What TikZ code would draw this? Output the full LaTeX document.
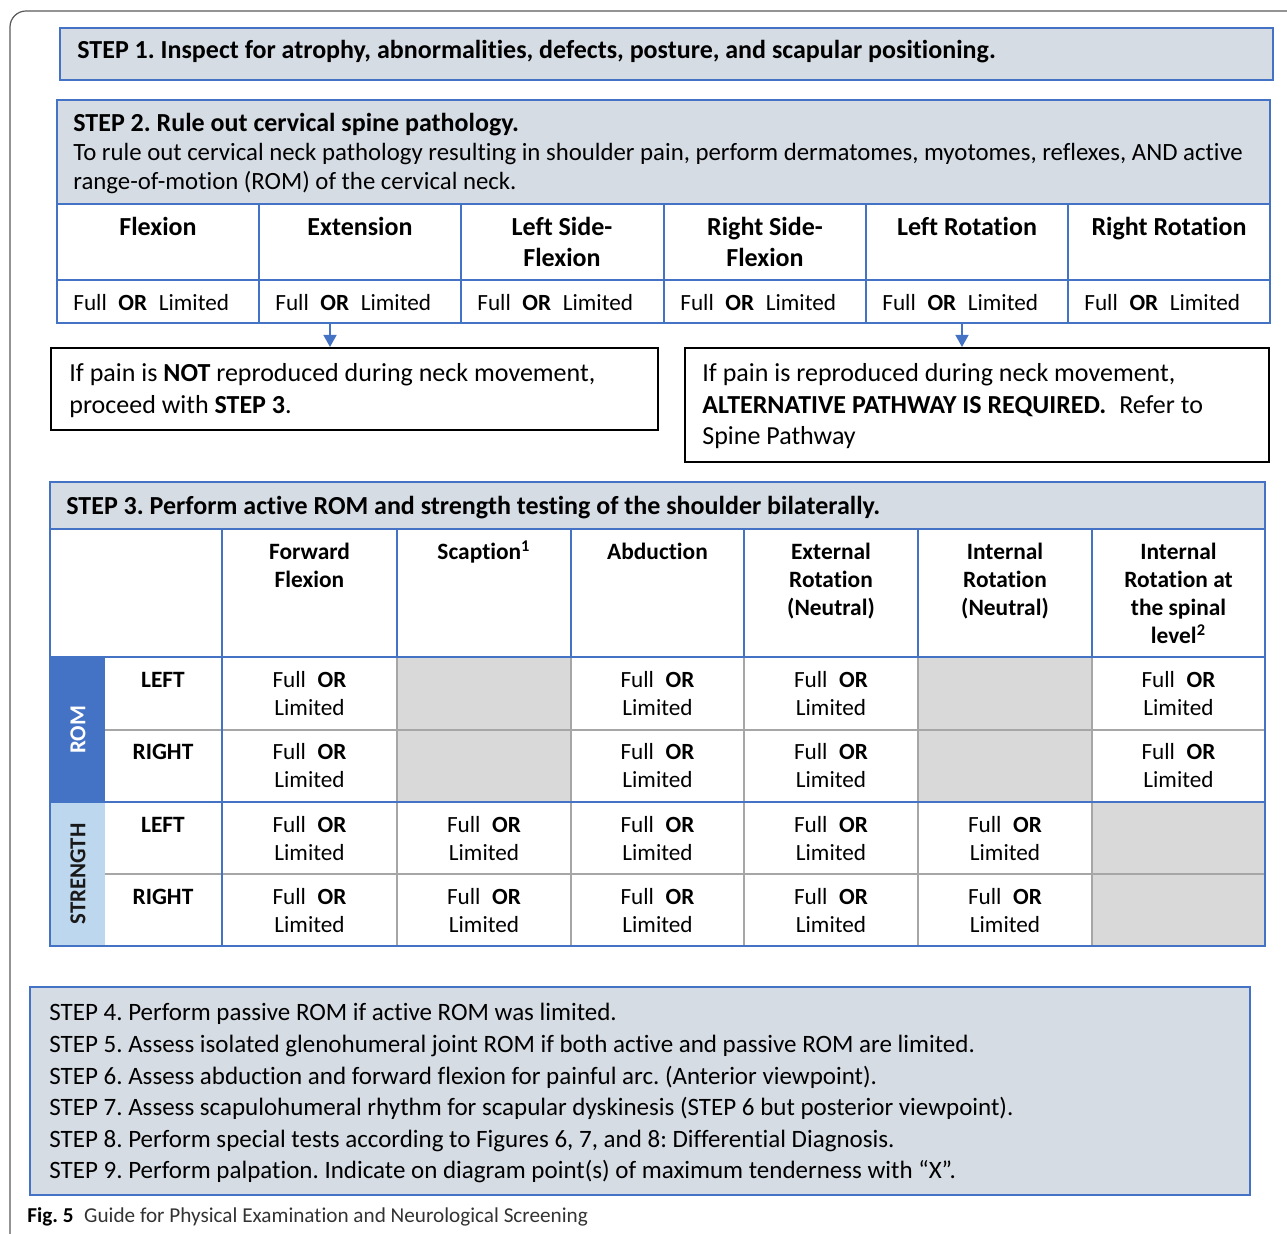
\documentclass[tikz,border=0pt]{standalone}
\usepackage{fontspec}
\setmainfont{Carlito}[Ligatures=NoCommon]
\frenchspacing
\usetikzlibrary{arrows.meta}
\definecolor{stepfill}{HTML}{D6DCE4}
\definecolor{stepline}{HTML}{4472C4}
\definecolor{grayfill}{HTML}{D9D9D9}
\definecolor{grayline}{HTML}{A6A6A6}
\definecolor{strfill}{HTML}{BDD7EE}
\newcommand{\fullor}{Full\enspace\textbf{OR}}
\begin{document}
% multi-line nodes sit on the baseline of their last line
\begin{tikzpicture}[x=0.5pt,y=-0.5pt,
  stepbox/.style={draw=stepline,fill=stepfill,line width=1pt},
  tabline/.style={draw=stepline,line width=0.8pt},
  softline/.style={draw=grayline,line width=0.8pt},
  pathbox/.style={draw=black,line width=1pt,inner sep=0pt,anchor=north west},
  txt/.style={anchor=base west,inner sep=0pt,font=\fontsize{12.5}{15.8}\selectfont},
  boldtxt/.style={txt,font=\fontsize{13}{16}\selectfont\bfseries},
  colhead/.style={anchor=base,inner sep=0pt,align=center,font=\fontsize{11.7}{14}\selectfont\bfseries},
  cellval/.style={anchor=base,inner sep=0pt,align=center,font=\fontsize{11.6}{14}\selectfont},
  flowarrow/.style={stepline,line width=0.7pt,-{Triangle[width=6.5pt,length=6pt]}}]
\useasboundingbox (0,0) rectangle (1287,1234);
% outer frame
\draw[black!65,line width=0.6pt,rounded corners=8pt] (10,1234) -- (10,11) -- (1287,11);

% step 1
\draw[stepbox] (60,28) rectangle (1273,80);
\node[boldtxt] (step1) at (77,59) {STEP 1. Inspect for atrophy, abnormalities, defects, posture, and scapular positioning.};

% step 2 and the neck table
\draw[stepbox] (57,100) rectangle (1270,204);
\fill[white] (57,204) rectangle (1270,323);
\node[boldtxt] (step2) at (73,132) {STEP 2. Rule out cervical spine pathology.};
\node[txt,align=left,font=\fontsize{12.4}{14.5}\selectfont] (step2txt) at (73,190) {To rule out cervical neck pathology resulting in shoulder pain, perform dermatomes, myotomes, reflexes, AND active\\range-of-motion (ROM) of the cervical neck.};
\foreach \x in {259,461,664,866,1068}
  \draw[tabline] (\x,204) -- (\x,323);
\draw[tabline] (57,204) -- (1270,204);
\draw[tabline] (57,280) -- (1270,280);
\draw[tabline] (57,100) rectangle (1270,323);
\foreach \i/\x/\y/\lab in {1/158/236/Flexion,2/360/236/Extension,3/562/267/{Left Side-\\Flexion},
    4/765/267/{Right Side-\\Flexion},5/967/236/Left Rotation,6/1169/236/Right Rotation}
  \node[colhead,font=\fontsize{13}{15.5}\selectfont\bfseries] (neck\i) at (\x,\y) {\lab};
\foreach \i/\x in {1/57,2/259,3/461,4/664,5/866,6/1068}
  \node[txt,font=\fontsize{11.6}{14}\selectfont] (neckval\i) at (\x+16,311) {\fullor\enspace Limited};

% the two pathways
\coordinate (dropA) at (330,323);
\coordinate (dropB) at (962,323);
\node[pathbox,minimum width=303.5pt,minimum height=41pt] (noPain) at (50,347) {};
\node[pathbox,minimum width=292pt,minimum height=57pt] (pain) at (684,347) {};
\draw[flowarrow] (dropA) -- (dropA |- noPain.north);
\draw[flowarrow] (dropB) -- (dropB |- pain.north);
\node[txt,align=left,font=\fontsize{13}{16}\selectfont] (noPainTxt) at (69,414) {If pain is \textbf{NOT} reproduced during neck movement,\\proceed with \textbf{STEP 3}.};
\node[txt,align=left,font=\fontsize{13}{15.75}\selectfont] (painTxt) at (702,445) {If pain is reproduced during neck movement,\\\textbf{ALTERNATIVE PATHWAY IS REQUIRED.}\enspace Refer to\\Spine Pathway};

% step 3 and the shoulder table
\draw[stepbox] (50,482) rectangle (1265,529);
\node[boldtxt] (step3) at (66,515) {STEP 3. Perform active ROM and strength testing of the shoulder bilaterally.};
\fill[white] (50,529) rectangle (1265,946);
\fill[grayfill] (397,657) rectangle (571,802);
\fill[grayfill] (918,657) rectangle (1092,802);
\fill[grayfill] (1092,802) rectangle (1265,946);
\fill[stepline] (50,657) rectangle (105,802);
\fill[strfill] (50,802) rectangle (105,946);
\draw[softline] (105,730) -- (1265,730);
\draw[softline] (105,874) -- (1265,874);
\foreach \x in {397,571,744,918,1092}
  \draw[softline] (\x,657) -- (\x,946);
\foreach \x in {222,397,571,744,918,1092}
  \draw[tabline] (\x,529) -- (\x,657);
\draw[tabline] (222,657) -- (222,946);
\draw[tabline] (50,529) -- (1265,529);
\draw[tabline] (50,657) -- (1265,657);
\draw[tabline] (50,802) -- (1265,802);
\draw[tabline] (50,482) rectangle (1265,946);
\foreach \i/\x/\y/\lab in {1/309.5/588/{Forward\\Flexion},2/484/560/{Scaption\textsuperscript{1}},3/657.5/560/Abduction,
    4/831/616/{External\\Rotation\\(Neutral)},5/1005/616/{Internal\\Rotation\\(Neutral)},
    6/1178.5/644/{Internal\\Rotation at\\the spinal\\level\textsuperscript{2}}}
  \node[colhead] (move\i) at (\x,\y) {\lab};
\node[rotate=90,inner sep=0pt,text=white,font=\fontsize{11.4}{12}\selectfont\bfseries] (romlab) at (78,730) {ROM};
\node[rotate=90,inner sep=0pt,text=black!90,font=\fontsize{11.4}{12}\selectfont\bfseries] (strlab) at (78,874) {STRENGTH};
\foreach \j/\y/\side in {1/688/LEFT,2/760/RIGHT,3/833/LEFT,4/905/RIGHT}
  \node[colhead] (side\j) at (163,\y) {\side};
% range of motion rows
\foreach \j/\y in {1/716,2/788}
  \foreach \i/\x in {1/309.5,3/657.5,4/831,6/1178.5}
    \node[cellval] (rom\j\i) at (\x,\y) {\fullor\\Limited};
% strength rows
\foreach \j/\y in {3/861,4/933}
  \foreach \i/\x in {1/309.5,2/484,3/657.5,4/831,5/1005}
    \node[cellval] (str\j\i) at (\x,\y) {\fullor\\Limited};

% steps 4 to 9
\draw[stepbox] (30,987) rectangle (1250,1195);
\node[txt,align=left,font=\fontsize{12.5}{15.8}\selectfont] (laterSteps) at (49,1179) {STEP 4. Perform passive ROM if active ROM was limited.\\
STEP 5. Assess isolated glenohumeral joint ROM if both active and passive ROM are limited.\\
STEP 6. Assess abduction and forward flexion for painful arc. (Anterior viewpoint).\\
STEP 7. Assess scapulohumeral rhythm for scapular dyskinesis (STEP 6 but posterior viewpoint).\\
STEP 8. Perform special tests according to Figures 6, 7, and 8: Differential Diagnosis.\\
STEP 9. Perform palpation. Indicate on diagram point(s) of maximum tenderness with “X”.};

% caption
\node[txt,font=\fontsize{10.6}{12}\selectfont] (caption) at (27,1223) {\textbf{Fig. 5}\enspace{\color{black!80}Guide for Physical Examination and Neurological Screening}};
\end{tikzpicture}
\end{document}
